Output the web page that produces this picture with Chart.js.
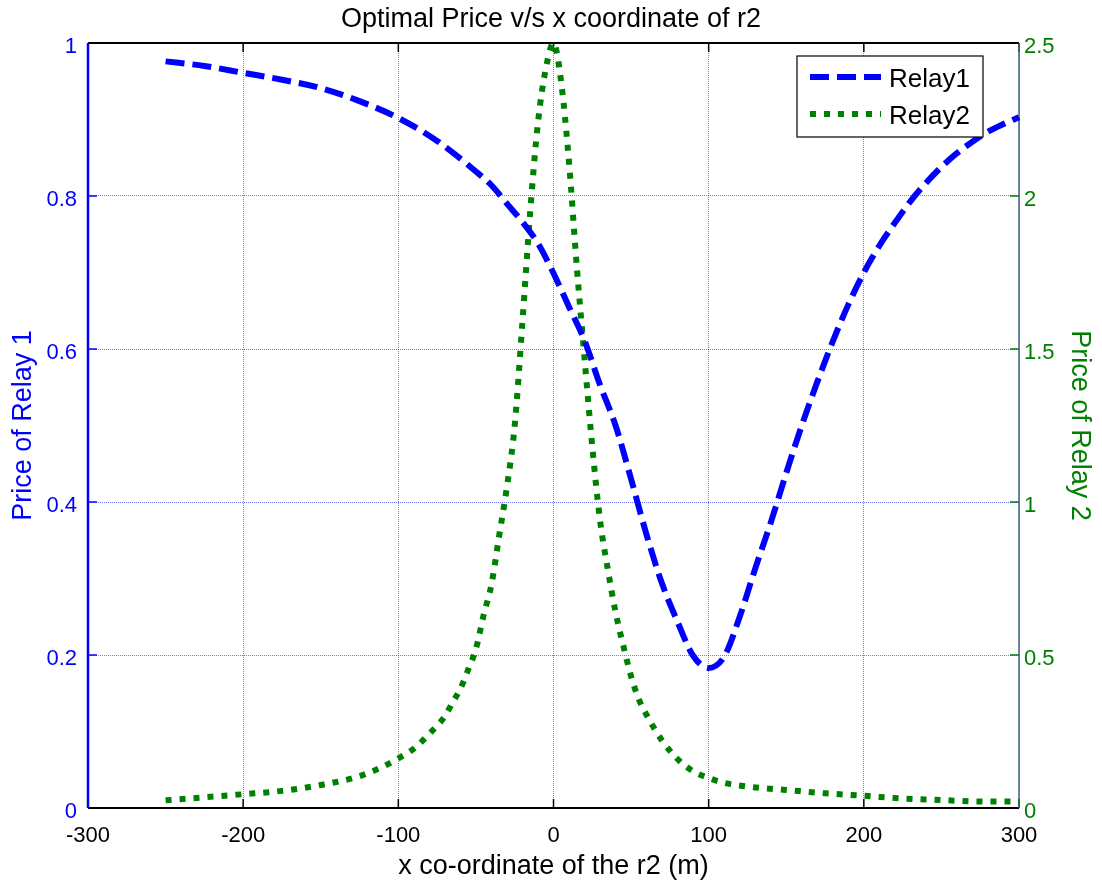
<!DOCTYPE html>
<html>
<head>
<meta charset="utf-8">
<script src="https://cdn.jsdelivr.net/npm/chart.js@4"></script>
<style>
body { margin: 0; background: #fff; }
</style>
</head>
<body>
<canvas id="grafico" width="1102" height="881"></canvas>
<script>
// Relay1 (left axis)
const xRelay1 = [-250, -225, -200, -175, -150, -125, -100, -75, -50, -40, -30, -20, -10, 0, 10, 20, 30, 40, 50, 60, 70, 80, 90, 100, 110, 120, 130, 140, 150, 160, 170, 180, 190, 200, 210, 220, 230, 240, 250, 260, 270, 280, 290, 300];
const yRelay1 = [0.976, 0.970, 0.961, 0.952, 0.941, 0.924, 0.902, 0.872, 0.832, 0.814, 0.790, 0.766, 0.738, 0.699, 0.655, 0.611, 0.553, 0.500, 0.430, 0.357, 0.293, 0.243, 0.199, 0.183, 0.198, 0.250, 0.313, 0.373, 0.438, 0.500, 0.557, 0.610, 0.658, 0.700, 0.735, 0.765, 0.793, 0.817, 0.838, 0.856, 0.871, 0.884, 0.894, 0.903];

// Relay2 (right axis)
const xRelay2 = [-250, -225, -200, -175, -150, -125, -110, -100, -90, -80, -70, -65, -60, -55, -50, -45, -40, -35, -30, -25, -20, -15, -10, -5, 0, 5, 10, 15, 20, 25, 30, 35, 40, 45, 50, 55, 60, 70, 80, 90, 100, 110, 125, 150, 175, 200, 225, 250, 275, 300];
const yRelay2 = [0.025, 0.035, 0.045, 0.056, 0.075, 0.104, 0.135, 0.162, 0.194, 0.243, 0.300, 0.345, 0.390, 0.452, 0.520, 0.631, 0.730, 0.890, 1.050, 1.250, 1.590, 1.950, 2.240, 2.415, 2.500, 2.370, 2.110, 1.770, 1.470, 1.180, 0.940, 0.780, 0.640, 0.530, 0.430, 0.355, 0.304, 0.220, 0.160, 0.120, 0.098, 0.082, 0.070, 0.059, 0.048, 0.040, 0.031, 0.026, 0.021, 0.021];

const leftTicks = ['0', '0.2', '0.4', '0.6', '0.8', '1'];
const rightTicks = ['0', '0.5', '1', '1.5', '2', '2.5'];
const seriesNames = ['Relay1', 'Relay2'];

const fonte = '"Liberation Sans", Arial, sans-serif';
const azul = '#0000ff';
const verde = '#008000';

// moldura do grafico + ticks internos (estilo matlab)
const moldura = {
	id: 'moldura',
	beforeDatasetsDraw(chart) {
		const {ctx, chartArea: a, scales} = chart;
		ctx.save();
		ctx.setLineDash([]);
		ctx.lineWidth = 1.5;
		ctx.strokeStyle = '#000';
		scales.x.ticks.forEach(t => {
			const px = scales.x.getPixelForValue(t.value);
			ctx.beginPath();
			ctx.moveTo(px, a.bottom); ctx.lineTo(px, a.bottom - 9);
			ctx.moveTo(px, a.top); ctx.lineTo(px, a.top + 9);
			ctx.stroke();
		});
		ctx.strokeStyle = azul;
		scales.y.ticks.forEach(t => {
			const py = scales.y.getPixelForValue(t.value);
			ctx.beginPath(); ctx.moveTo(a.left, py); ctx.lineTo(a.left + 9, py); ctx.stroke();
		});
		ctx.strokeStyle = verde;
		scales.y2.ticks.forEach(t => {
			const py = scales.y2.getPixelForValue(t.value);
			ctx.beginPath(); ctx.moveTo(a.right, py); ctx.lineTo(a.right - 9, py); ctx.stroke();
		});
		ctx.lineWidth = 2;
		ctx.strokeStyle = '#000';
		ctx.beginPath();
		ctx.moveTo(a.left, a.top); ctx.lineTo(a.right, a.top);
		ctx.moveTo(a.left, a.bottom); ctx.lineTo(a.right, a.bottom);
		ctx.stroke();
		ctx.strokeStyle = azul;
		ctx.lineWidth = 2.5;
		ctx.beginPath(); ctx.moveTo(a.left, a.top); ctx.lineTo(a.left, a.bottom); ctx.stroke();
		ctx.strokeStyle = '#3d6680';
		ctx.lineWidth = 1.5;
		ctx.beginPath(); ctx.moveTo(a.right, a.top); ctx.lineTo(a.right, a.bottom); ctx.stroke();
		ctx.restore();
	}
};

// legenda dentro do grafico, canto superior direito
const legenda = {
	id: 'legenda',
	afterDatasetsDraw(chart) {
		const {ctx, chartArea: a} = chart;
		const bx = a.right - 222, by = a.top + 13, bw = 186, bh = 81;
		ctx.save();
		ctx.fillStyle = '#fff';
		ctx.fillRect(bx, by, bw, bh);
		ctx.strokeStyle = '#000';
		ctx.lineWidth = 1.2;
		ctx.strokeRect(bx, by, bw, bh);
		chart.data.datasets.forEach((ds, i) => {
			const ly = by + 21 + i * 37;
			ctx.strokeStyle = ds.borderColor;
			ctx.lineWidth = ds.borderWidth;
			ctx.setLineDash(ds.borderDash);
			ctx.beginPath(); ctx.moveTo(bx + 13, ly); ctx.lineTo(bx + 84, ly); ctx.stroke();
			ctx.setLineDash([]);
			ctx.fillStyle = '#000';
			ctx.font = '26px ' + fonte;
			ctx.textBaseline = 'middle';
			ctx.fillText(seriesNames[i], bx + 92, ly + 3);
		});
		ctx.restore();
	}
};

const ctx = document.getElementById('grafico').getContext('2d');
let myChart = new Chart(ctx, {
	type: 'line',
	data: {
		datasets: [{
			label: seriesNames[0],
			data: xRelay1.map((x, i) => ({x: x, y: yRelay1[i]})),
			yAxisID: 'y',
			borderColor: azul,
			borderWidth: 6,
			borderDash: [19, 8],
			borderCapStyle: 'butt',
			pointRadius: 0,
			cubicInterpolationMode: 'monotone',
			clip: 8
		}, {
			label: seriesNames[1],
			data: xRelay2.map((x, i) => ({x: x, y: yRelay2[i]})),
			yAxisID: 'y2',
			borderColor: verde,
			borderWidth: 6,
			borderDash: [6, 8],
			borderCapStyle: 'butt',
			pointRadius: 0,
			cubicInterpolationMode: 'monotone',
			clip: 8
		}]
	},
	options: {
		responsive: false,
		animation: false,
		layout: { padding: 0 },
		plugins: {
			legend: { display: false },
			tooltip: { enabled: false },
			title: {
				display: true,
				text: 'Optimal Price v/s x coordinate of r2',
				color: '#000',
				font: { family: fonte, size: 27, weight: 'normal' },
				padding: { top: 3, bottom: 7.6 }
			}
		},
		scales: {
			x: {
				type: 'linear',
				min: -300,
				max: 300,
				afterFit: s => { s.height = 73; },
				ticks: { stepSize: 100, color: '#000', font: { family: fonte, size: 22 }, padding: 15, maxRotation: 0 },
				grid: { color: 'rgba(90,90,90,0.7)', lineWidth: 1, drawTicks: false },
				border: { display: false, dash: [1, 1] },
				title: { display: true, text: 'x co-ordinate of the r2 (m)', color: '#000', font: { family: fonte, size: 27 }, padding: { top: 0, bottom: -2 } }
			},
			y: {
				position: 'left',
				min: 0,
				max: 1,
				afterFit: s => { s.width = 88; },
				ticks: { stepSize: 0.2, color: azul, font: { family: fonte, size: 22 }, padding: 11, labelOffset: 4, callback: (v, i) => leftTicks[i] },
				grid: { color: 'rgba(0,0,255,0.55)', lineWidth: 1, drawTicks: false },
				border: { display: false, dash: [1, 1] },
				title: { display: true, text: 'Price of Relay 1', color: azul, font: { family: fonte, size: 27 }, padding: { top: 7, bottom: 0 } }
			},
			y2: {
				position: 'right',
				min: 0,
				max: 2.5,
				afterFit: s => { s.width = 83; },
				ticks: { stepSize: 0.5, color: verde, font: { family: fonte, size: 22 }, padding: 5, labelOffset: 4, callback: (v, i) => rightTicks[i] },
				grid: { drawOnChartArea: false, drawTicks: false },
				border: { display: false },
				title: { display: true, text: 'Price of Relay 2', color: verde, font: { family: fonte, size: 27 }, padding: { top: 6, bottom: 0 } }
			}
		}
	},
	plugins: [moldura, legenda]
});
</script>
</body>
</html>
